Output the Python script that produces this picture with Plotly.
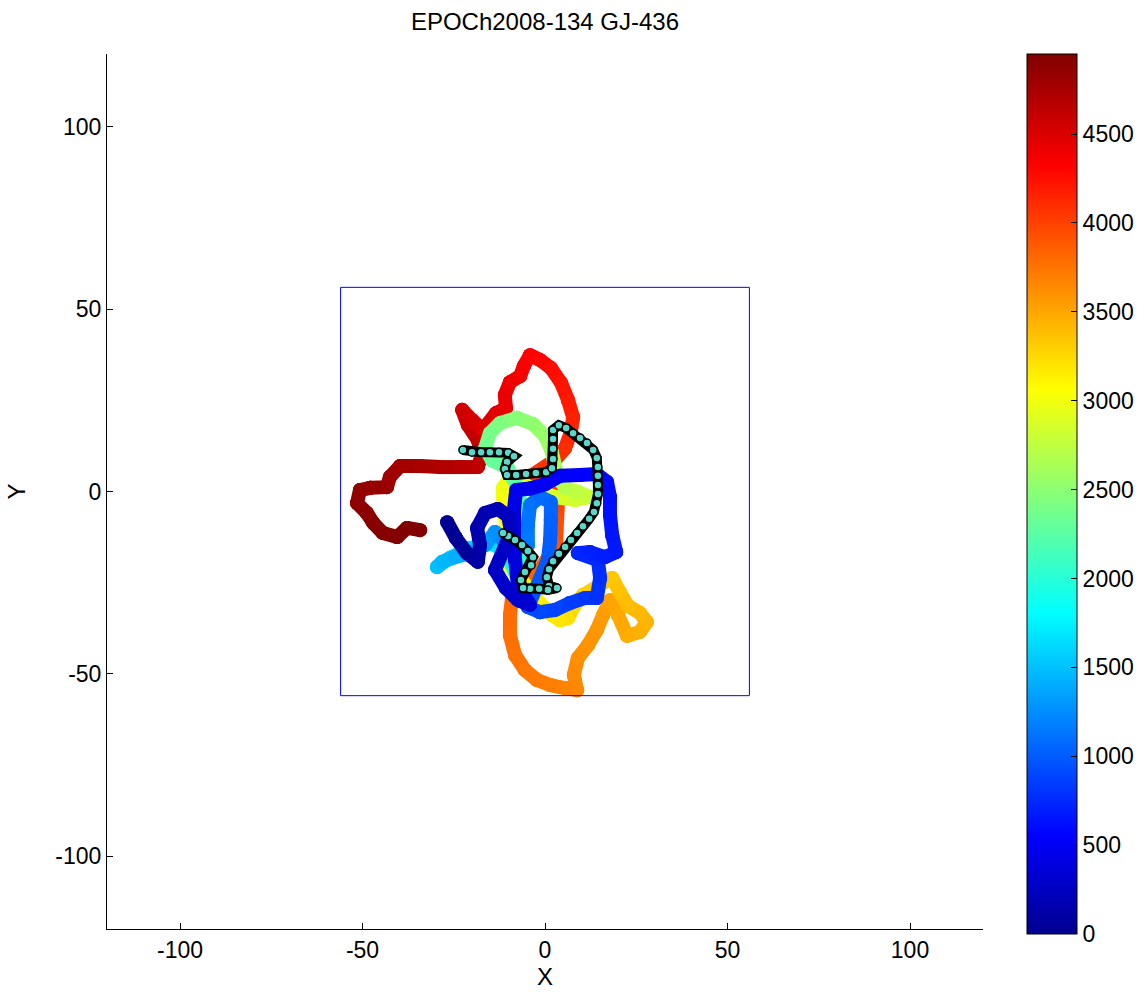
import plotly.graph_objects as go
from plotly.colors import sample_colorscale

# Guider drift track: position (X, Y) and frame index used for colouring
track_x = [-26.8, -24.4, -21.4, -18.4, -17.8, -18.6, -16.4, -12.9, -10.1, -9.3,
           -13.7, -10.7, -7.4, -4.1, -7.4, -8.2, -8.5, -8.5, -7.9,
           -4.0, 0.0, 4.1, 9.6, 14.2, 17.0, 17.8, 17.8, 18.4, 19.5,
           16.4, 12.3, 9.0, 14.5, 15.1, 14.2, 11.0, 6.8, 2.7, -1.4,
           -4.7, -2.7, 0.8, 1.4, 1.6, 1.6, -1.4, -4.1, -4.7, -4.7,
           -8.2, -11.5, -13.7, -16.4, -20.5, -24.7, -28.2, -29.6, -26.0, -20.5,
           -15.1, -12.3, -11.0, -9.0, -7.4, -6.3, -5.8, -6.3, -7.5, -10.2,
           -14.5, -16.4, -15.1, -12.3, -7.7, -3.3, 0.0, 1.9, 3.0, 5.5,
           9.0, 12.3, 8.2, 2.7, -2.7, -9.5, -11.5, -11.5, -10.5, -10.8,
           -9.8, -4.1, -1.4, 1.9, 4.1, 6.3, 8.2, 10.4, 12.9, 15.9,
           18.4, 20.5, 22.7, 26.0, 27.9, 26.0, 22.5, 20.0, 17.8,
           15.9, 14.2, 11.8, 9.0, 7.9, 8.8, 5.5, 1.4, -2.2, -5.5,
           -8.2, -9.6, -9.6, -9.0,
           -1.4, 3.0, 3.3, 3.6, 0.0, -4.7, 2.7, 5.5, 7.1, 7.7,
           6.3, 4.4, 1.6, -1.4, -4.1, -5.8, -6.8, -9.6, -11.0, -10.7,
           -13.4, -17.0, -20.0, -22.7, -21.1, -18.4, -17.3, -18.4,
           -23.3, -28.8, -34.2, -39.7, -42.5, -43.3, -47.9, -50.7,
           -51.5, -48.8, -47.1, -44.4, -40.5, -37.8, -34.2]
track_y = [-8.4, -12.8, -16.9, -19.3, -14.7, -10.0, -5.9, -4.8, -6.7, -11.1,
           -21.5, -26.5, -29.8, -31.1, -25.7, -18.8, -11.9, -5.1, 0.4,
           0.8, 2.0, 4.3, 4.5, 4.8, 2.6, -1.5, -6.4, -11.9, -16.6,
           -18.0, -16.6, -16.9, -18.8, -23.7, -29.2, -29.2, -30.6, -32.5, -33.1,
           -31.7, -27.0, -18.8, -13.3, -7.8, -2.9, -1.5, -3.7, -9.2, -14.7,
           -15.5, -13.3, -11.1, -14.7, -16.9, -18.0, -19.3, -20.7, -18.2, -15.5,
           -14.1, -15.5, -16.6, -20.2, -24.3, -18.8, -11.9, -5.1, 1.0, 6.5,
           8.5, 11.9, 16.0, 18.8, 20.2, 18.5, 15.2, 10.8, 5.9, 1.0,
           -0.1, -1.5, -2.3, -1.5, 0.4, 4.0, 1.0, -4.0, -10.0, -15.5,
           -20.5, -27.0, -30.6, -33.9, -35.3, -34.7, -31.1, -28.4, -27.0, -25.1,
           -23.7, -27.6, -31.4, -33.3, -35.8, -38.5, -39.6, -33.9, -29.8,
           -33.9, -38.0, -42.1, -45.7, -50.3, -54.5, -53.9, -53.1, -51.7, -49.0,
           -44.9, -39.4, -33.9, -28.9,
           -21.5, -14.7, -7.8, -2.3, 1.8, 3.7, 8.6, 11.9, 16.3, 20.4,
           25.1, 29.8, 33.9, 36.1, 37.4, 34.4, 31.7, 30.0, 26.5, 22.9,
           21.5, 16.9, 19.6, 22.4, 18.2, 14.1, 10.0, 6.7,
           6.7, 6.7, 7.0, 7.0, 4.0, 1.2, 1.0, 0.4,
           -3.2, -5.9, -8.6, -11.4, -12.5, -10.0, -10.6]
track_frame = [0, 40, 80, 110, 140, 165, 190, 210, 230, 250,
               280, 300, 320, 340, 365, 390, 415, 440, 460,
               480, 500, 525, 550, 575, 600, 620, 640, 660, 680,
               700, 720, 740, 760, 785, 810, 835, 860, 890, 920,
               950, 975, 1000, 1020, 1040, 1060, 1090, 1110, 1140, 1170,
               1210, 1250, 1290, 1330, 1380, 1430, 1480, 1510, 1550, 1600,
               1650, 1700, 1750, 1850, 1950, 2050, 2120, 2180, 2230, 2280,
               2330, 2370, 2410, 2450, 2490, 2530, 2570, 2610, 2660, 2720,
               2770, 2810, 2850, 2890, 2930, 2960, 3000, 3030, 3060, 3090,
               3120, 3140, 3160, 3180, 3200, 3230, 3260, 3290, 3310, 3330,
               3350, 3380, 3400, 3420, 3440, 3460, 3480, 3500, 3530,
               3560, 3580, 3600, 3620, 3640, 3660, 3680, 3700, 3720, 3740,
               3760, 3780, 3800, 3830,
               3870, 3910, 3950, 3990, 4030, 4060, 4090, 4120, 4150, 4180,
               4210, 4240, 4270, 4300, 4330, 4350, 4380, 4400, 4420, 4440,
               4470, 4500, 4540, 4570, 4600, 4620, 4640, 4660,
               4690, 4720, 4750, 4780, 4810, 4830, 4850, 4870,
               4885, 4900, 4910, 4920, 4930, 4940, 4950]

# Highlighted sub-path (open circles)
mark_x = [-22.5, -20.0, -17.5, -15.1, -12.6, -10.1, -8.5, -10.4, -11.0, -10.4,
          -7.9, -5.2, -2.5, 0.3, 1.9, 2.2, 2.2, 2.2, 2.2, 3.8,
          5.8, 7.7, 9.6, 11.5, 13.2, 14.2, 14.5, 14.5, 14.5, 14.5,
          14.2, 13.4, 12.1, 10.4, 8.8, 7.1, 5.5, 3.8, 2.2, 1.1,
          0.5, 1.1, 3.3, 0.8, -1.6, -4.1, -6.0, -6.6, -5.5, -3.8,
          -3.3, -4.7, -6.3, -8.2, -10.1, -11.5]
mark_y = [11.4, 10.8, 10.8, 10.8, 10.8, 10.6, 9.7, 8.1, 6.2, 4.5,
          4.5, 4.8, 5.1, 5.3, 6.4, 8.9, 11.7, 14.4, 16.9, 18.2,
          17.4, 16.0, 14.7, 13.3, 11.4, 9.2, 6.7, 4.3, 1.8, -0.7,
          -3.2, -5.6, -7.5, -9.5, -11.4, -13.3, -15.2, -17.1, -19.1, -21.3,
          -23.5, -25.9, -26.5, -27.0, -26.7, -26.7, -26.5, -24.3, -22.1, -20.2,
          -18.0, -16.3, -14.7, -13.3, -12.2, -11.4]

frame_max = 4950
cbar_ticks = [0, 500, 1000, 1500, 2000, 2500, 3000, 3500, 4000, 4500]
axis_ticks = [-100, -50, 0, 50, 100]
axis_ticktext = ["-100", "-50", "0", "50", "100"]
box_half = 56

jet = [[0.0, "rgb(0,0,143)"], [0.111, "rgb(0,0,255)"], [0.365, "rgb(0,255,255)"],
       [0.619, "rgb(255,255,0)"], [0.873, "rgb(255,0,0)"], [1.0, "rgb(128,0,0)"]]

font_family = "Liberation Sans, Arial, sans-serif"
stroke = 14

fig = go.Figure()

# Colour-mapped points carrying the colour bar (drawn first, beneath the segments)
fig.add_trace(go.Scatter(
    x=track_x, y=track_y, mode="markers",
    marker=dict(size=stroke, color=track_frame, colorscale=jet, cmin=0, cmax=frame_max,
                line=dict(width=0),
                colorbar=dict(
                    x=1.0502, xanchor="left", xref="paper",
                    y=0.4971, yanchor="middle", yref="paper",
                    len=880, lenmode="pixels", ypad=0, xpad=0,
                    thickness=50, thicknessmode="pixels",
                    outlinecolor="black", outlinewidth=1,
                    tickvals=cbar_ticks, ticks="inside", ticklen=6, tickcolor="black",
                    tickfont=dict(family=font_family, size=23, color="black"))),
    showlegend=False, hoverinfo="skip"))

# Track segments, latest first so that earlier frames end up on top
for i in reversed(range(len(track_x) - 1)):
    mid = 0.5 * (track_frame[i] + track_frame[i + 1]) / frame_max
    col = sample_colorscale(jet, [mid])[0]
    fig.add_trace(go.Scatter(
        x=[track_x[i], track_x[i + 1]], y=[track_y[i], track_y[i + 1]],
        mode="lines+markers", line=dict(color=col, width=stroke),
        marker=dict(color=col, size=stroke, line=dict(width=0)),
        showlegend=False, hoverinfo="skip"))

# Highlighted sub-path
fig.add_trace(go.Scatter(
    x=mark_x, y=mark_y, mode="lines",
    line=dict(color="black", width=10), showlegend=False, hoverinfo="skip"))
fig.add_trace(go.Scatter(
    x=mark_x, y=mark_y, mode="markers",
    marker=dict(size=8, color="rgb(90,215,200)", line=dict(color="black", width=1.5)),
    showlegend=False, hoverinfo="skip"))

# Field boundary
fig.add_shape(type="rect", xref="x", yref="y", x0=-box_half, x1=box_half,
              y0=-box_half, y1=box_half, line=dict(color="blue", width=1))

axis_common = dict(range=[-120, 120], tickvals=axis_ticks, ticktext=axis_ticktext,
                   ticks="inside", ticklen=6,
                   tickcolor="black", showline=True, linecolor="black", linewidth=1,
                   mirror=False, showgrid=False, zeroline=False,
                   tickfont=dict(family=font_family, size=23, color="black"))

fig.update_layout(
    width=1147, height=995,
    margin=dict(l=107, r=164, t=54, b=66, autoexpand=False),
    paper_bgcolor="white", plot_bgcolor="white",
    title=dict(text="EPOCh2008-134 GJ-436", x=0.5, xref="paper", xanchor="center",
               y=0.978, yanchor="middle",
               font=dict(family=font_family, size=24, color="black")),
    xaxis=dict(**axis_common, title=dict(text="X", standoff=4,
                                         font=dict(family=font_family, size=24, color="black"))),
    yaxis=dict(**axis_common, title=dict(text="Y", standoff=22,
                                         font=dict(family=font_family, size=24, color="black"))),
)

fig.write_html("out.html")
